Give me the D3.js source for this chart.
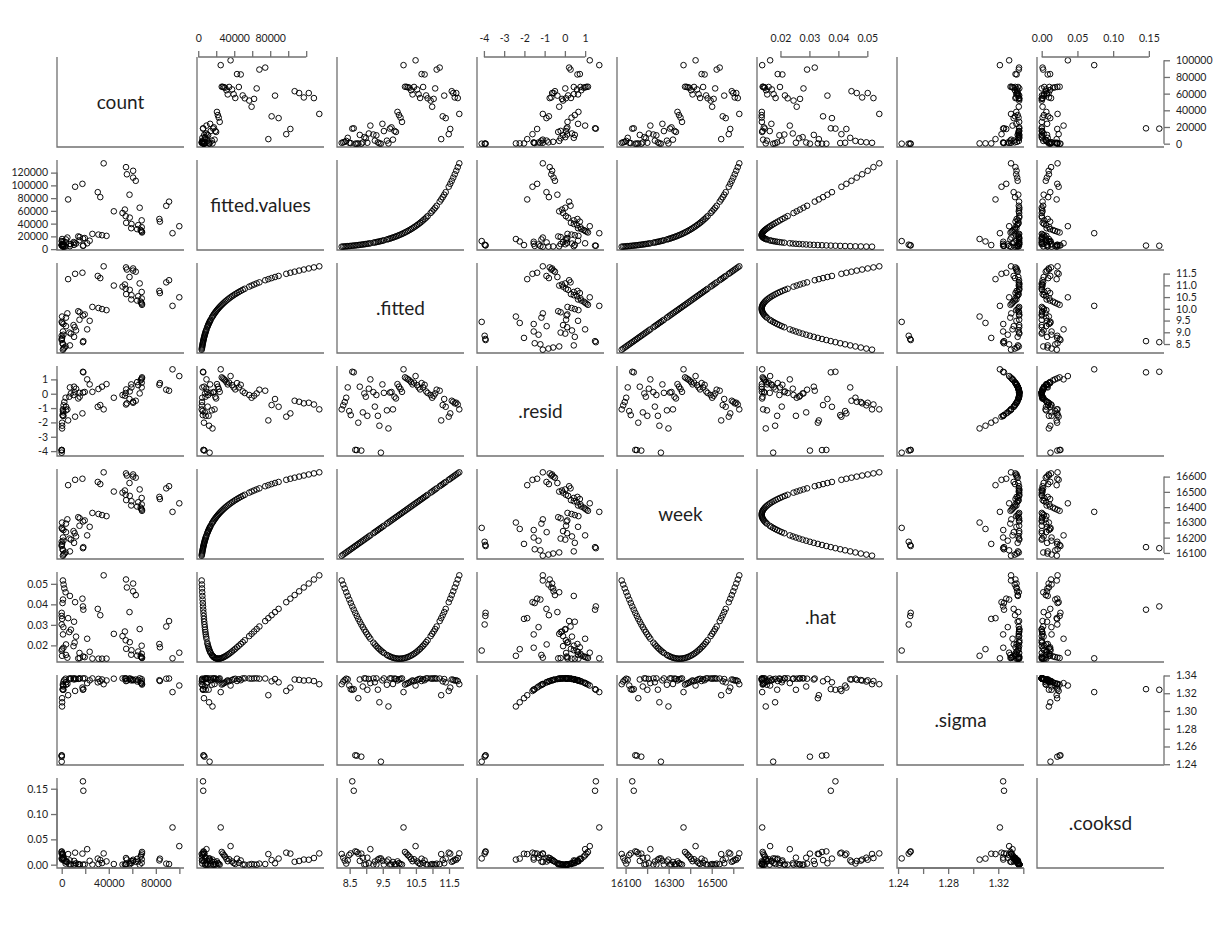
<!DOCTYPE html>
<html><head><meta charset="utf-8">
<script src="https://cdn.jsdelivr.net/npm/d3@7"></script>
<style>
body{margin:0;background:#fff}
svg text{font-family:Lato,"Open Sans","DejaVu Sans",sans-serif}
</style>
</head><body>
<svg id="c" width="1220" height="925"></svg>
<script>
// ---- data (one value per week) ----
const varNames = ["count","fitted.values",".fitted",".resid","week",".hat",".sigma",".cooksd"];

const week = [16082,16089,16096,16103,16110,16117,16124,16131,16138,16145,
16152,16159,16166,16173,16180,16187,16194,16201,16208,16215,
16229,16236,16243,16250,16257,16264,16271,16278,
16292,16299,16306,16313,16320,16327,16334,16341,16348,16355,
16362,16369,16376,16383,16390,16397,16404,16411,16418,16425,
16432,16439,16446,16453,16460,16467,16474,16481,
16495,16502,16509,16516,16523,
16537,16544,16551,16558,16565,
16579,16586,16593,16600,16607,16614,16621,16628];

const count = [1024,1590,2231,3311,6985,1075,714,18043,18394,1,
1,321,10500,1,1404,7805,6446,1086,12209,21662,
10988,3651,10042,1494,382,1,23780,15112,
3619,317,18128,19562,4814,15305,14047,38085,34280,31246,
26089,94175,68259,68126,67576,67126,64104,59080,68013,99938,
65013,59297,54807,83449,67972,83004,57846,54382,
51685,44306,53693,66263,88860,
91236,5456,32792,57625,30645,
11400,17615,62915,60684,55413,60698,54651,35661];

const fittedValues = [3866,4046,4234,4432,4638,4854,5080,5316,5564,5823,
6094,6378,6675,6985,7311,7652,8008,8380,8771,9179,
10053,10522,11011,11524,12062,12623,13211,13826,
15143,15848,16586,17358,18166,19012,19897,20823,21793,22807,
23869,24980,26143,27360,28634,29967,31362,32822,34350,35949,
37623,39374,41208,43126,45134,47242,49441,51743,
56672,59312,62073,64964,67988,
74478,77943,81573,85370,89344,
97852,102410,107180,112170,117400,122870,128590,134570];

const fitted = [8.260,8.306,8.351,8.397,8.442,8.488,8.533,8.579,8.624,8.670,
8.715,8.761,8.806,8.852,8.897,8.943,8.988,9.034,9.079,9.125,
9.216,9.261,9.307,9.352,9.398,9.443,9.489,9.534,
9.625,9.671,9.716,9.762,9.807,9.853,9.898,9.944,9.989,10.035,
10.080,10.126,10.171,10.217,10.262,10.308,10.353,10.399,10.444,10.490,
10.536,10.581,10.627,10.672,10.718,10.763,10.809,10.854,
10.945,10.991,11.036,11.082,11.127,
11.218,11.264,11.309,11.355,11.400,
11.491,11.537,11.582,11.628,11.673,11.719,11.764,11.810];

const resid = [-1.09,-0.81,-0.58,-0.28,0.44,-1.21,-1.49,1.53,1.49,-3.917,
-3.928,-2.02,0.49,-3.963,-1.30,0.02,-0.21,-1.54,0.35,1.00,
0.11,-0.90,-0.09,-1.54,-2.23,-4.109,0.65,0.06,
-1.16,-2.42,0.08,0.12,-1.09,-0.21,-0.33,0.67,0.49,0.33,
0.13,1.70,1.14,1.07,1.00,0.93,0.81,0.65,0.77,1.23,
0.60,0.44,0.30,0.74,0.44,0.62,0.16,0.05,
-0.09,-0.28,-0.14,0.02,0.28,
0.21,-1.86,-0.79,-0.37,-0.91,
-1.60,-1.37,-0.49,-0.56,-0.67,-0.63,-0.75,-1.09];

const hat = [0.05163,0.04967,0.04776,0.04590,0.04410,0.04234,0.04064,0.03899,0.03739,0.03585,
0.03435,0.03291,0.03152,0.03018,0.02889,0.02766,0.02647,0.02534,0.02426,0.02323,
0.02133,0.02046,0.01963,0.01886,0.01815,0.01748,0.01686,0.01630,
0.01533,0.01492,0.01457,0.01426,0.01401,0.01381,0.01366,0.01356,0.01352,0.01352,
0.01358,0.01369,0.01385,0.01407,0.01433,0.01465,0.01502,0.01544,0.01591,0.01643,
0.01701,0.01764,0.01832,0.01905,0.01983,0.02066,0.02155,0.02249,
0.02452,0.02561,0.02676,0.02795,0.02920,
0.03185,0.03326,0.03471,0.03622,0.03778,
0.04105,0.04277,0.04453,0.04635,0.04822,0.05014,0.05212,0.05414];

const sigma = [1.3302,1.3332,1.3349,1.3364,1.3357,1.3287,1.3245,1.3239,1.3246,1.2501,
1.2497,1.3144,1.3355,1.2485,1.3276,1.3368,1.3366,1.3239,1.3361,1.3314,
1.3367,1.3324,1.3367,1.3240,1.3098,1.2429,1.3345,1.3367,
1.3296,1.3051,1.3367,1.3367,1.3304,1.3366,1.3362,1.3344,1.3355,1.3362,
1.3367,1.3213,1.3298,1.3307,1.3314,1.3322,1.3333,1.3345,1.3336,1.3287,
1.3349,1.3358,1.3363,1.3338,1.3358,1.3347,1.3367,1.3368,
1.3367,1.3364,1.3367,1.3368,1.3364,
1.3366,1.3178,1.3334,1.3360,1.3323,
1.3226,1.3264,1.3355,1.3351,1.3343,1.3346,1.3337,1.3302];

const cooksd = [0.0211,0.0138,0.0080,0.0022,0.0084,0.0190,0.0222,0.1646,0.1460,0.0262,
0.0251,0.0216,0.0075,0.0218,0.0136,0.0000,0.0007,0.0138,0.0027,0.0306,
0.0001,0.0062,0.0001,0.0101,0.0120,0.0123,0.0076,0.0001,
0.0062,0.0100,0.0001,0.0002,0.0053,0.0004,0.0008,0.0065,0.0031,0.0013,
0.0001,0.0735,0.0251,0.0219,0.0186,0.0158,0.0115,0.0069,0.0107,0.0366,
0.0063,0.0032,0.0014,0.0118,0.0036,0.0084,0.0004,0.0000,
0.0001,0.0012,0.0004,0.0000,0.0020,
0.0012,0.0209,0.0091,0.0028,0.0120,
0.0237,0.0218,0.0057,0.0073,0.0101,0.0097,0.0131,0.0222];

// ---- tick values and labels ----
const countTicks = [0,20000,40000,60000,80000,100000];
const countColLabels = ["0","","40000","","80000",""];
const countRowLabels = ["0","20000","40000","60000","80000","100000"];
const fittedValuesTicks = [0,20000,40000,60000,80000,100000,120000];
const fittedValuesColLabels = ["0","","40000","","80000","",""];
const fittedValuesRowLabels = ["0","20000","40000","60000","80000","100000","120000"];
const fittedTicks = [8.5,9,9.5,10,10.5,11,11.5];
const fittedColLabels = ["8.5","","9.5","","10.5","","11.5"];
const fittedRowLabels = ["8.5","9.0","9.5","10.0","10.5","11.0","11.5"];
const residTicks = [-4,-3,-2,-1,0,1];
const residLabels = ["-4","-3","-2","-1","0","1"];
const weekTicks = [16100,16200,16300,16400,16500,16600];
const weekColLabels = ["16100","","16300","","16500",""];
const weekRowLabels = ["16100","16200","16300","16400","16500","16600"];
const hatTicks = [0.02,0.03,0.04,0.05];
const hatLabels = ["0.02","0.03","0.04","0.05"];
const sigmaTicks = [1.24,1.26,1.28,1.30,1.32,1.34];
const sigmaColLabels = ["1.24","","1.28","","1.32",""];
const sigmaRowLabels = ["1.24","1.26","1.28","1.30","1.32","1.34"];
const cooksTicks = [0,0.05,0.10,0.15];
const cooksLabels = ["0.00","0.05","0.10","0.15"];

const columns = [count, fittedValues, fitted, resid, week, hat, sigma, cooksd];
const tickSets = [countTicks, fittedValuesTicks, fittedTicks, residTicks, weekTicks, hatTicks, sigmaTicks, cooksTicks];
const colLabelSets = [countColLabels, fittedValuesColLabels, fittedColLabels, residLabels, weekColLabels, hatLabels, sigmaColLabels, cooksLabels];
const rowLabelSets = [countRowLabels, fittedValuesRowLabels, fittedRowLabels, residLabels, weekRowLabels, hatLabels, sigmaRowLabels, cooksLabels];

// ---- layout ----
const W = 127, H = 90, X0 = 57, Y0 = 57, DX = 140, DY = 103;
const LINE = "#707070", TXT = "#1e1e1e";
const NV = columns.length, N = count.length;
const svg = d3.select("#c");

const domains = columns.map(v => { const e = d3.extent(v); const p = (e[1]-e[0])*0.04; return [e[0]-p, e[1]+p]; });
const xs = domains.map((d,j) => d3.scaleLinear().domain(d).range([X0+DX*j, X0+DX*j+W]));
const ys = domains.map((d,i) => d3.scaleLinear().domain(d).range([Y0+DY*i+H, Y0+DY*i]));

// frames (left + bottom)
for (let i=0;i<NV;i++) for (let j=0;j<NV;j++) {
  const x0 = X0+DX*j, y0 = Y0+DY*i;
  svg.append("path").attr("d", `M${x0},${y0}V${y0+H}H${x0+W}`)
    .attr("fill","none").attr("stroke",LINE).attr("stroke-width",1.3);
}

// diagonal labels
varNames.forEach((nm,i) => {
  svg.append("text").attr("x", X0+DX*i+W/2).attr("y", Y0+DY*i+H/2)
    .attr("text-anchor","middle").attr("dy","0.35em")
    .attr("font-size",19).attr("fill",TXT).text(nm);
});

// points
for (let i=0;i<NV;i++) for (let j=0;j<NV;j++) {
  if (i===j) continue;
  svg.append("g").selectAll("circle").data(d3.range(N)).join("circle")
    .attr("cx", k => xs[j](columns[j][k]))
    .attr("cy", k => ys[i](columns[i][k]))
    .attr("r", 2.8).attr("fill","none").attr("stroke","#000").attr("stroke-width",0.95);
}

// axes
function drawAxis(axisGen, scale, ticks, labels, transform, pad, horizontal) {
  const dom = scale.domain();
  const keep = ticks.map((t,idx)=>[t,labels[idx]]).filter(p => p[0]>=dom[0] && p[0]<=dom[1]);
  const vals = keep.map(p=>p[0]);
  const lab = new Map(keep.map(p=>[p[0],p[1]]));
  const g = svg.append("g").attr("transform", transform)
    .call(axisGen(scale).tickValues(vals).tickSize(6).tickPadding(pad).tickFormat(d => lab.get(d)));
  g.select(".domain").remove();
  const a = scale(vals[0]), b = scale(vals[vals.length-1]);
  if (horizontal) g.append("line").attr("x1",a).attr("x2",b).attr("y1",0).attr("y2",0);
  else g.append("line").attr("y1",a).attr("y2",b).attr("x1",0).attr("x2",0);
  g.selectAll("line").attr("stroke",LINE).attr("stroke-width",1.3);
  g.selectAll("text").attr("fill",TXT).attr("font-size",10.5)
    .style("font-family",'Lato,"Open Sans",sans-serif');
}

for (let j=0;j<NV;j++) {
  if (j%2===1) drawAxis(d3.axisTop, xs[j], tickSets[j], colLabelSets[j], `translate(0,${Y0})`, 9, true);
  else drawAxis(d3.axisBottom, xs[j], tickSets[j], colLabelSets[j], `translate(0,${Y0+DY*(NV-1)+H})`, 6, true);
}
for (let i=0;i<NV;i++) {
  if (i%2===1) drawAxis(d3.axisLeft, ys[i], tickSets[i], rowLabelSets[i], `translate(${X0},0)`, 3, false);
  else drawAxis(d3.axisRight, ys[i], tickSets[i], rowLabelSets[i], `translate(${X0+DX*(NV-1)+W},0)`, 6, false);
}
</script>
</body></html>
